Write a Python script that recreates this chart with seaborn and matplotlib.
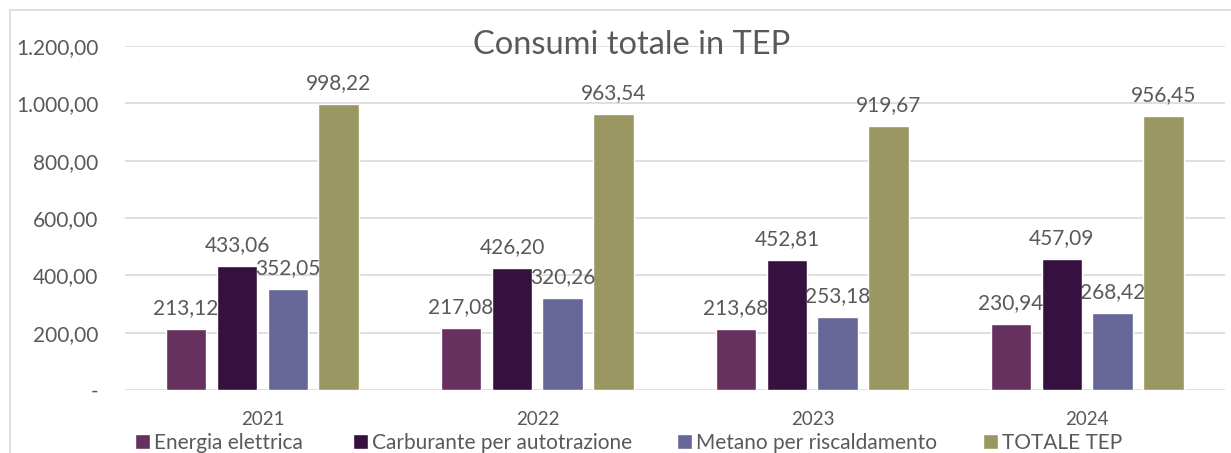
import pandas as pd
import matplotlib.pyplot as plt
import seaborn as sns
from matplotlib.patches import Rectangle

# Data
years = ["2021", "2022", "2023", "2024"]
series = ["Energia elettrica", "Carburante per autotrazione",
          "Metano per riscaldamento", "TOTALE TEP"]
energia = [213.12, 217.08, 213.68, 230.94]
carburante = [433.06, 426.20, 452.81, 457.09]
metano = [352.05, 320.26, 253.18, 268.42]
totale = [998.22, 963.54, 919.67, 956.45]
colors = ["#66305F", "#36113F", "#666698", "#9A9762"]


def it_fmt(v):
    """Italian number format: 1.200,00"""
    s = f"{v:,.2f}"
    return s.replace(",", "X").replace(".", ",").replace("X", ".")


rows = []
for name, vals in zip(series, [energia, carburante, metano, totale]):
    for y, v in zip(years, vals):
        rows.append({"anno": y, "serie": name, "valore": v})
df = pd.DataFrame(rows)

sns.set_theme(style="white")
plt.rcParams['font.family'] = ['Lato', 'DejaVu Sans']
text_col = "#595959"

fig = plt.figure(figsize=(12.31, 4.53), dpi=100)
ax = fig.add_axes([0.1015, 0.139, 0.8935, 0.7595])

sns.barplot(data=df, x="anno", y="valore", hue="serie", hue_order=series,
            palette=colors, width=0.74, gap=0.2, ax=ax, saturation=1,
            legend=True)

for cont in ax.containers:
    ax.bar_label(cont, labels=[it_fmt(b.get_height()) for b in cont],
                 padding=8, fontsize=15, color=text_col)

ax.set_xlim(-0.5, 3.5)
ax.set_ylim(0, 1200)
ticks = [0, 200, 400, 600, 800, 1000, 1200]
ax.set_yticks(ticks)
ax.set_yticklabels(["-"] + [it_fmt(t) for t in ticks[1:]])
ax.yaxis.grid(True, color="#D9D9D9", linewidth=1.2)
ax.set_axisbelow(True)
for sp in ax.spines.values():
    sp.set_visible(False)
ax.tick_params(axis="y", length=0, pad=19, labelsize=15, labelcolor=text_col)
ax.tick_params(axis="x", length=0, pad=15, labelsize=13.5, labelcolor=text_col)
ax.set_xlabel("")
ax.set_ylabel("")

fig.text(0.513, 0.9, "Consumi totale in TEP", ha="center", va="center",
         fontsize=23.5, color=text_col)

# legend entries placed one by one, as in the original layout
handles, labels = ax.get_legend_handles_labels()
ax.legend_.remove()
leg_x = [135, 353, 677, 983]
for h, l, x in zip(handles, labels, leg_x):
    fig.legend([h], [l], loc="center left",
               bbox_to_anchor=(x / 1231, 1 - 443 / 453), frameon=False,
               fontsize=15, handlelength=0.72, handleheight=0.72,
               handletextpad=0.2, borderpad=0, borderaxespad=0,
               labelcolor=text_col)

# chart area border
fig.patches.append(Rectangle((10 / 1231, -0.1), 1.2, 1 - 10 / 453 + 0.1,
                             transform=fig.transFigure, fill=False,
                             edgecolor="#D9D9D9", linewidth=1.2))

fig.savefig("out.png", dpi=100)
